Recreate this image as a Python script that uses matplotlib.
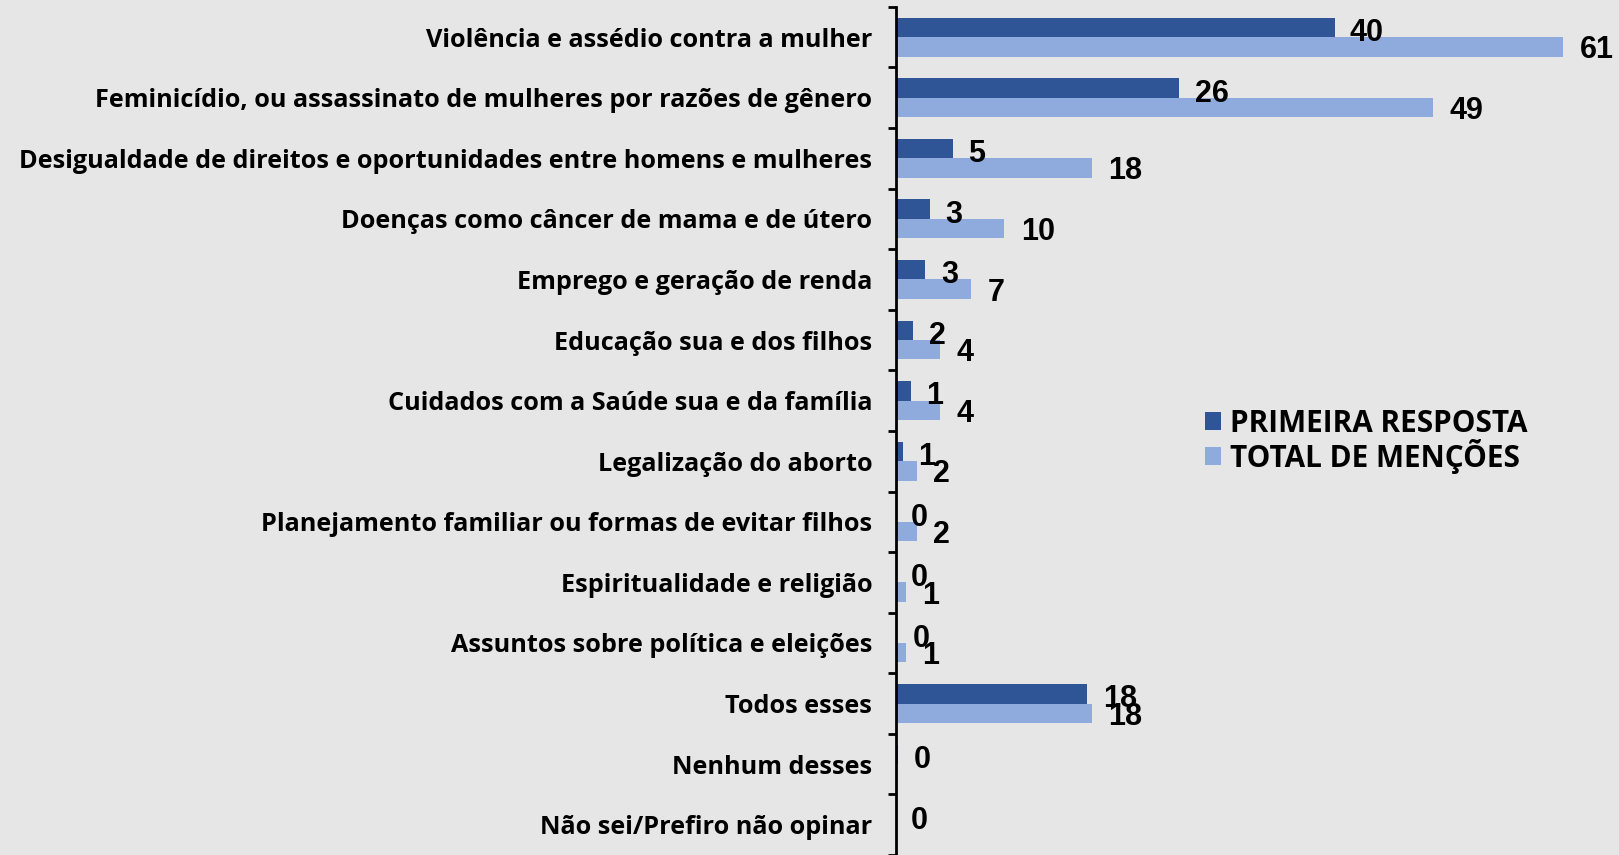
import matplotlib.pyplot as plt
import numpy as np

categories = [
    "Violência e assédio contra a mulher",
    "Feminicídio, ou assassinato de mulheres por razões de gênero",
    "Desigualdade de direitos e oportunidades entre homens e mulheres",
    "Doenças como câncer de mama e de útero",
    "Emprego e geração de renda",
    "Educação sua e dos filhos",
    "Cuidados com a Saúde sua e da família",
    "Legalização do aborto",
    "Planejamento familiar ou formas de evitar filhos",
    "Espiritualidade e religião",
    "Assuntos sobre política e eleições",
    "Todos esses",
    "Nenhum desses",
    "Não sei/Prefiro não opinar",
]
primeira = [40.1, 25.9, 5.2, 3.1, 2.7, 1.6, 1.4, 0.6, 0.0, 0.0, 0.1, 17.5, 0.2, 0.0]
total = [61.0, 49.1, 17.9, 9.9, 6.9, 4.0, 4.0, 1.9, 1.9, 0.9, 0.9, 17.9, 0.0, 0.0]
series_names = ["PRIMEIRA RESPOSTA", "TOTAL DE MENÇÕES"]

bg = "#e7e6e6"
dark = "#2f5597"
light = "#8faadc"

fig = plt.figure(figsize=(16.19, 8.55), dpi=100, facecolor=bg)
ax = fig.add_axes([0.5534, 0.0, 0.4466, 0.992])
ax.set_facecolor(bg)

y = np.arange(len(categories))
h = 0.32
ax.barh(y - h / 2, primeira, height=h, color=dark, label=series_names[0])
ax.barh(y + h / 2, total, height=h, color=light, label=series_names[1])

num_font = dict(family="Liberation Sans", weight="bold", size=22)
for yy, v in zip(y, primeira):
    ax.annotate(f"{v:.0f}", (v, yy - h / 2), xytext=(11, -4), textcoords="offset points",
                ha="left", va="center", **num_font)
for yy, v in zip(y, total):
    if v > 0:
        ax.annotate(f"{v:.0f}", (v, yy + h / 2), xytext=(12, -2.5), textcoords="offset points",
                    ha="left", va="center", **num_font)

ax.set_xlim(0, 66.1)
ax.set_ylim(len(categories) - 0.5, -0.5)
ax.set_xticks([])

# boundary ticks + labels on centers
ax.set_yticks(np.arange(len(categories) + 1) - 0.5)
ax.set_yticklabels([])
ax.set_yticks(y, minor=True)
ax.set_yticklabels(categories, minor=True, family="Open Sans", weight="bold", fontsize=18.2)
ax.tick_params(axis="y", which="major", length=6, width=2, direction="out")
ax.tick_params(axis="y", which="minor", length=0, pad=17)

for s in ["top", "right", "bottom"]:
    ax.spines[s].set_visible(False)
ax.spines["left"].set_linewidth(2)

ax.legend(loc="center left", bbox_to_anchor=(0.744, 0.484), bbox_transform=fig.transFigure,
          frameon=False, handlelength=0.55, handleheight=0.55, handletextpad=0.3,
          labelspacing=0.0, borderaxespad=0, borderpad=0,
          prop=dict(family="Open Sans", weight="bold", size=21.4))

fig.savefig("out.png", dpi=100, facecolor=bg)
